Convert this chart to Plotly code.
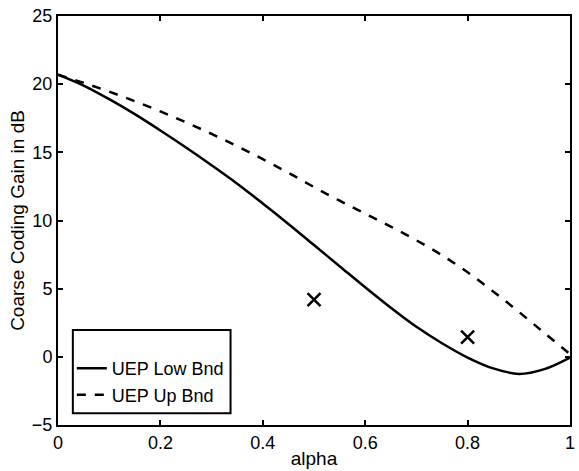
import plotly.graph_objects as go

alpha = [0.0, 0.05, 0.1, 0.15, 0.2, 0.25, 0.3, 0.35, 0.4, 0.45, 0.5, 0.55, 0.6, 0.65, 0.7, 0.75, 0.8, 0.85, 0.9, 0.95, 1.0]
low_bnd = [20.7, 19.9, 18.9, 17.8, 16.6, 15.35, 14.05, 12.7, 11.25, 9.75, 8.2, 6.65, 5.1, 3.6, 2.2, 1.0, -0.05, -0.85, -1.25, -0.9, -0.05]
up_bnd = [20.7, 20.1, 19.45, 18.75, 18.0, 17.2, 16.35, 15.45, 14.5, 13.5, 12.45, 11.45, 10.5, 9.55, 8.55, 7.45, 6.2, 4.8, 3.3, 1.75, 0.2]
pts_x = [0.5, 0.8]
pts_y = [4.2, 1.45]

fig = go.Figure()
fig.add_trace(go.Scatter(x=alpha, y=low_bnd, mode="lines", name="UEP Low Bnd",
                         line=dict(color="black", width=2.5, shape="spline")))
fig.add_trace(go.Scatter(x=alpha, y=up_bnd, mode="lines", name="UEP Up Bnd",
                         line=dict(color="black", width=2.5, dash="dash", shape="spline")))
fig.add_trace(go.Scatter(x=pts_x, y=pts_y, mode="markers", showlegend=False,
                         marker=dict(symbol="x-thin", size=13, color="black",
                                     line=dict(color="black", width=2.5))))

fig.add_shape(type="rect", xref="paper", yref="paper", x0=0.029, x1=0.337, y0=0.029, y1=0.232,
              line=dict(color="black", width=2), fillcolor="rgba(0,0,0,0)")

fig.update_layout(
    width=579, height=471,
    margin=dict(l=58, r=4, t=16, b=46),
    paper_bgcolor="white", plot_bgcolor="white",
    font=dict(family="Liberation Sans, Arial", size=18, color="black"),
    legend=dict(x=0.027, y=0.183, xanchor="left", yanchor="top", bgcolor="rgba(0,0,0,0)",
                borderwidth=0, font=dict(size=18), itemwidth=30, tracegroupgap=0),
    xaxis=dict(range=[0, 1], tickvals=[0, 0.2, 0.4, 0.6, 0.8, 1], ticktext=["0", "0.2", "0.4", "0.6", "0.8", "1"],
               ticks="inside", ticklen=5, tickwidth=1.5, tickcolor="black", showline=True, linecolor="black",
               linewidth=2, mirror="ticks", showgrid=False, zeroline=False,
               title=dict(text="alpha", standoff=0, font=dict(size=19)), tickfont=dict(size=18)),
    yaxis=dict(range=[-5, 25], tickvals=[-5, 0, 5, 10, 15, 20, 25],
               ticks="inside", ticklen=5, tickwidth=1.5, tickcolor="black", showline=True, linecolor="black",
               linewidth=2, mirror="ticks", showgrid=False, zeroline=False,
               title=dict(text="Coarse Coding Gain in dB", standoff=2, font=dict(size=19)), tickfont=dict(size=18)),
)
fig.write_html("out.html")
